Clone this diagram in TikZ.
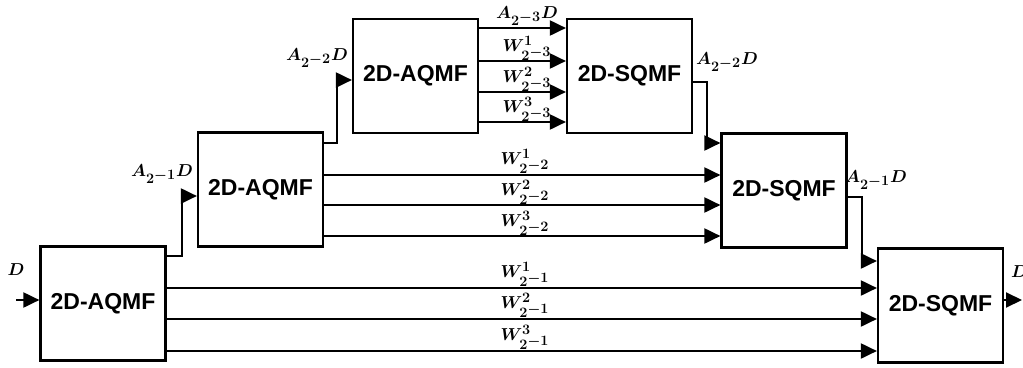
\documentclass[tikz,border=0pt]{standalone}
\usepackage{fontspec}
\setsansfont{Liberation Sans}
\usetikzlibrary{arrows.meta}
\begin{document}
\begin{tikzpicture}[x=1pt,y=-1pt,
  box/.style={draw, line width=2.2pt, minimum width=125pt, minimum height=114pt, inner sep=0pt,
    font=\sffamily\bfseries\fontsize{23}{26}\selectfont},
  arr/.style={line width=2pt, -{Triangle[length=16pt,width=15pt]}},
  lbl/.style={inner sep=0pt, font=\fontsize{19}{21}\selectfont\boldmath}]
\useasboundingbox (0,0) rectangle (1023,367);
% boxes
\node[box] (A1) at (103,303.5) {2D-AQMF};
\node[box] (A2) at (260.5,189.5) {2D-AQMF};
\node[box] (A3) at (415.5,76) {2D-AQMF};
\node[box] (S3) at (629.5,76) {2D-SQMF};
\node[box] (S2) at (784,190.5) {2D-SQMF};
\node[box] (S1) at (940.5,305.5) {2D-SQMF};
% bend points and free ends
\coordinate (Din) at (16,300);
\coordinate (Dout) at (1022,300);
\coordinate (b1) at (182,196);
\coordinate (b2) at (337,80);
\coordinate (b3) at (707,143);
\coordinate (b4) at (862,261);
% connectors
\draw[arr] (Din) -- (A1.west |- Din);
\draw[arr] (A1.east |- 0,256) -| (b1) -- (A2.west |- b1);
\draw[arr] (A2.east |- 0,143) -| (b2) -- (A3.west |- b2);
\foreach \yy in {28,61,92,122} \draw[arr] (A3.east |- 0,\yy) -- (S3.west |- 0,\yy);
\draw[arr] (S3.east |- 0,82) -| (b3) -- (S2.west |- b3);
\foreach \yy in {175,205,236} \draw[arr] (A2.east |- 0,\yy) -- (S2.west |- 0,\yy);
\draw[arr] (S2.east |- 0,197) -| (b4) -- (S1.west |- b4);
\foreach \yy in {288,319,351} \draw[arr] (A1.east |- 0,\yy) -- (S1.west |- 0,\yy);
\draw[arr] (S1.east |- Dout) -- (Dout);
% labels
\node[lbl] (lD1) at (16,270) {$D$};
\node[lbl, anchor=west] (lD2) at (1011,272) {$D$};
\node[lbl] (l1) at (162,174) {$A_{2^{\scriptstyle -1}}D$};
\node[lbl] (l2) at (317,58) {$A_{2^{\scriptstyle -2}}D$};
\node[lbl] (l3) at (527,16) {$A_{2^{\scriptstyle -3}}D$};
\node[lbl] (l4) at (727,62) {$A_{2^{\scriptstyle -2}}D$};
\node[lbl] (l5) at (876,180) {$A_{2^{\scriptstyle -1}}D$};
\node[lbl] (w31) at (527,48) {$W^{1}_{2^{\scriptstyle -3}}$};
\node[lbl] (w32) at (527,79) {$W^{2}_{2^{\scriptstyle -3}}$};
\node[lbl] (w33) at (527,109) {$W^{3}_{2^{\scriptstyle -3}}$};
\node[lbl] (w21) at (525,161) {$W^{1}_{2^{\scriptstyle -2}}$};
\node[lbl] (w22) at (525,192) {$W^{2}_{2^{\scriptstyle -2}}$};
\node[lbl] (w23) at (525,223) {$W^{3}_{2^{\scriptstyle -2}}$};
\node[lbl] (w11) at (525,274) {$W^{1}_{2^{\scriptstyle -1}}$};
\node[lbl] (w12) at (525,305) {$W^{2}_{2^{\scriptstyle -1}}$};
\node[lbl] (w13) at (525,337) {$W^{3}_{2^{\scriptstyle -1}}$};
\end{tikzpicture}
\end{document}
